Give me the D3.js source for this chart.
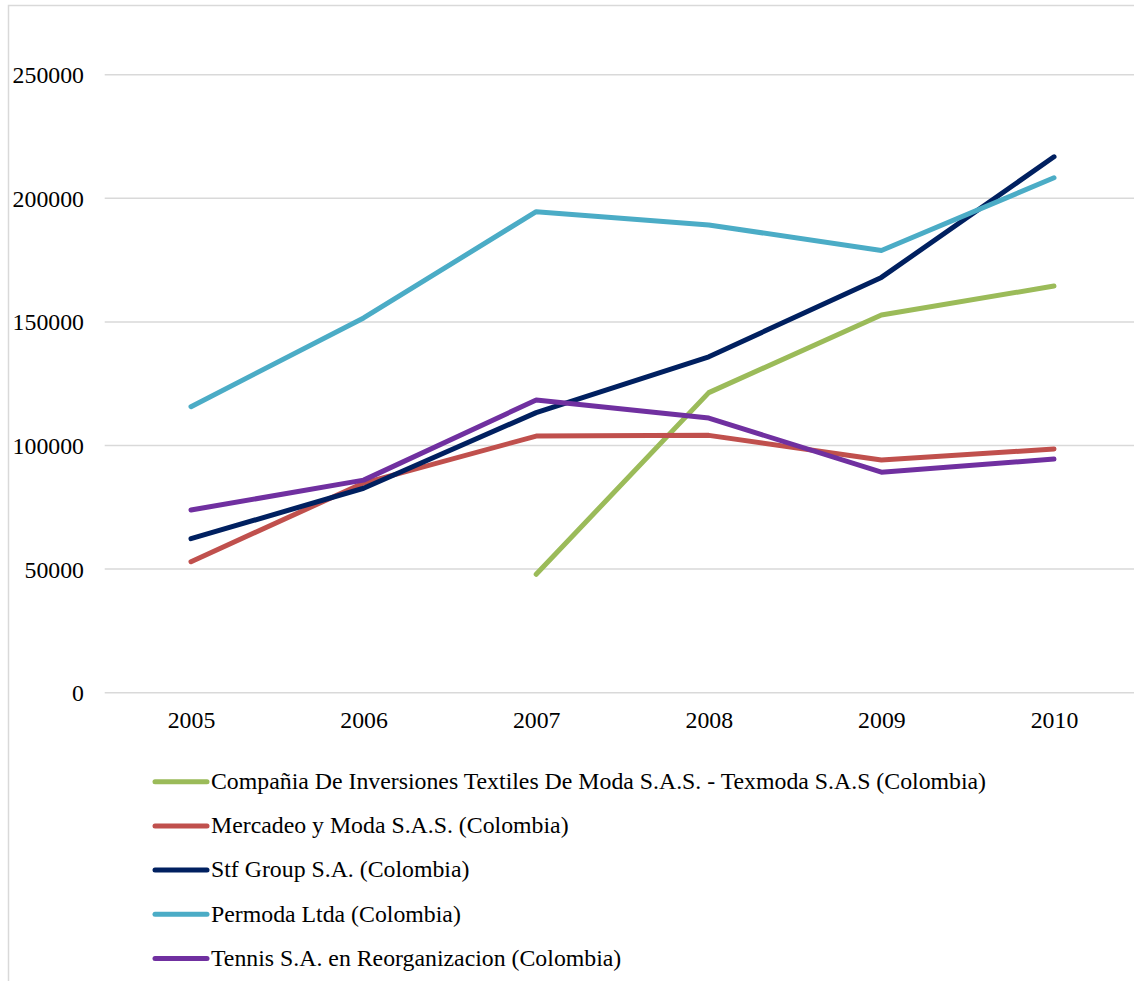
<!DOCTYPE html>
<html>
<head>
<meta charset="utf-8">
<script src="https://cdn.jsdelivr.net/npm/d3@7"></script>
<style>
  html, body { margin: 0; padding: 0; background: #fff; }
  svg { display: block; }
</style>
</head>
<body>
<svg id="chart" width="1134" height="981"></svg>
<script>
const years = ["2005", "2006", "2007", "2008", "2009", "2010"];
const yTicks = [0, 50000, 100000, 150000, 200000, 250000];

const seriesNames = [
  "Compañia De Inversiones Textiles De Moda S.A.S. - Texmoda S.A.S (Colombia)",
  "Mercadeo y Moda S.A.S. (Colombia)",
  "Stf Group S.A. (Colombia)",
  "Permoda Ltda (Colombia)",
  "Tennis S.A. en Reorganizacion (Colombia)"
];
const seriesColors = ["#9BBB59", "#C0504D", "#002060", "#4BACC6", "#7030A0"];

const texmoda  = [null, null, 47900, 121400, 152800, 164500];
const mercadeo = [53000, 84800, 103800, 104100, 94100, 98600];
const stf      = [62300, 82700, 113300, 135900, 168000, 216800];
const permoda  = [115700, 151600, 194600, 189200, 178900, 208300];
const tennis   = [73900, 86000, 118400, 111100, 89200, 94500];

const seriesValues = [texmoda, mercadeo, stf, permoda, tennis];

const FONT = "'Liberation Serif'";
const FS = "23.8px";

const svg = d3.select("#chart");

// chart frame
svg.append("rect")
  .attr("x", 8.5).attr("y", 5.5)
  .attr("width", 1200).attr("height", 1100)
  .attr("fill", "none").attr("stroke", "#d9d9d9").attr("stroke-width", 1.5);

const plotLeft = 104.7, plotRight = 1140.3;
const x = d3.scalePoint().domain(years).range([plotLeft, plotRight]).padding(0.5);
const y = d3.scaleLinear().domain([0, 250000]).range([692.7, 74.7]);

// gridlines
svg.append("g").selectAll("line").data(yTicks).join("line")
  .attr("x1", plotLeft).attr("x2", plotRight)
  .attr("y1", d => y(d)).attr("y2", d => y(d))
  .attr("stroke", "#d9d9d9").attr("stroke-width", 1.5);

// y axis
const yAxis = d3.axisLeft(y).tickValues(yTicks).tickSize(0).tickPadding(0).tickFormat(d3.format("d"));
const gy = svg.append("g").attr("transform", "translate(84,0)").call(yAxis);
gy.select(".domain").remove();
gy.attr("font-family", null).attr("font-size", null);
gy.selectAll("text")
  .style("font-family", FONT)
  .style("font-size", FS).attr("fill", "#000").attr("dy", "0.34em");

// x axis
const xAxis = d3.axisBottom(x).tickSize(0).tickPadding(0);
const gx = svg.append("g").attr("transform", "translate(0,711)").call(xAxis);
gx.select(".domain").remove();
gx.attr("font-family", null).attr("font-size", null);
gx.selectAll("text")
  .style("font-family", FONT)
  .style("font-size", FS).attr("fill", "#000").attr("dy", "0.71em");

// lines
const line = d3.line()
  .defined(d => d.v !== null)
  .x(d => x(d.year))
  .y(d => y(d.v));

seriesValues.forEach((vals, i) => {
  const pts = years.map((yr, j) => ({ year: yr, v: vals[j] }));
  svg.append("path")
    .datum(pts)
    .attr("d", line)
    .attr("fill", "none")
    .attr("stroke", seriesColors[i])
    .attr("stroke-width", 5)
    .attr("stroke-linecap", "round")
    .attr("stroke-linejoin", "round");
});

// legend
const legend = svg.append("g");
seriesNames.forEach((name, i) => {
  const ly = 781.7 + i * 44.2;
  legend.append("line")
    .attr("x1", 155).attr("x2", 207)
    .attr("y1", ly).attr("y2", ly)
    .attr("stroke", seriesColors[i]).attr("stroke-width", 5)
    .attr("stroke-linecap", "round");
  legend.append("text")
    .attr("x", 211).attr("y", ly + 7.2)
    .style("font-family", FONT)
    .style("font-size", FS)
    .attr("fill", "#000")
    .text(name);
});
</script>
</body>
</html>
